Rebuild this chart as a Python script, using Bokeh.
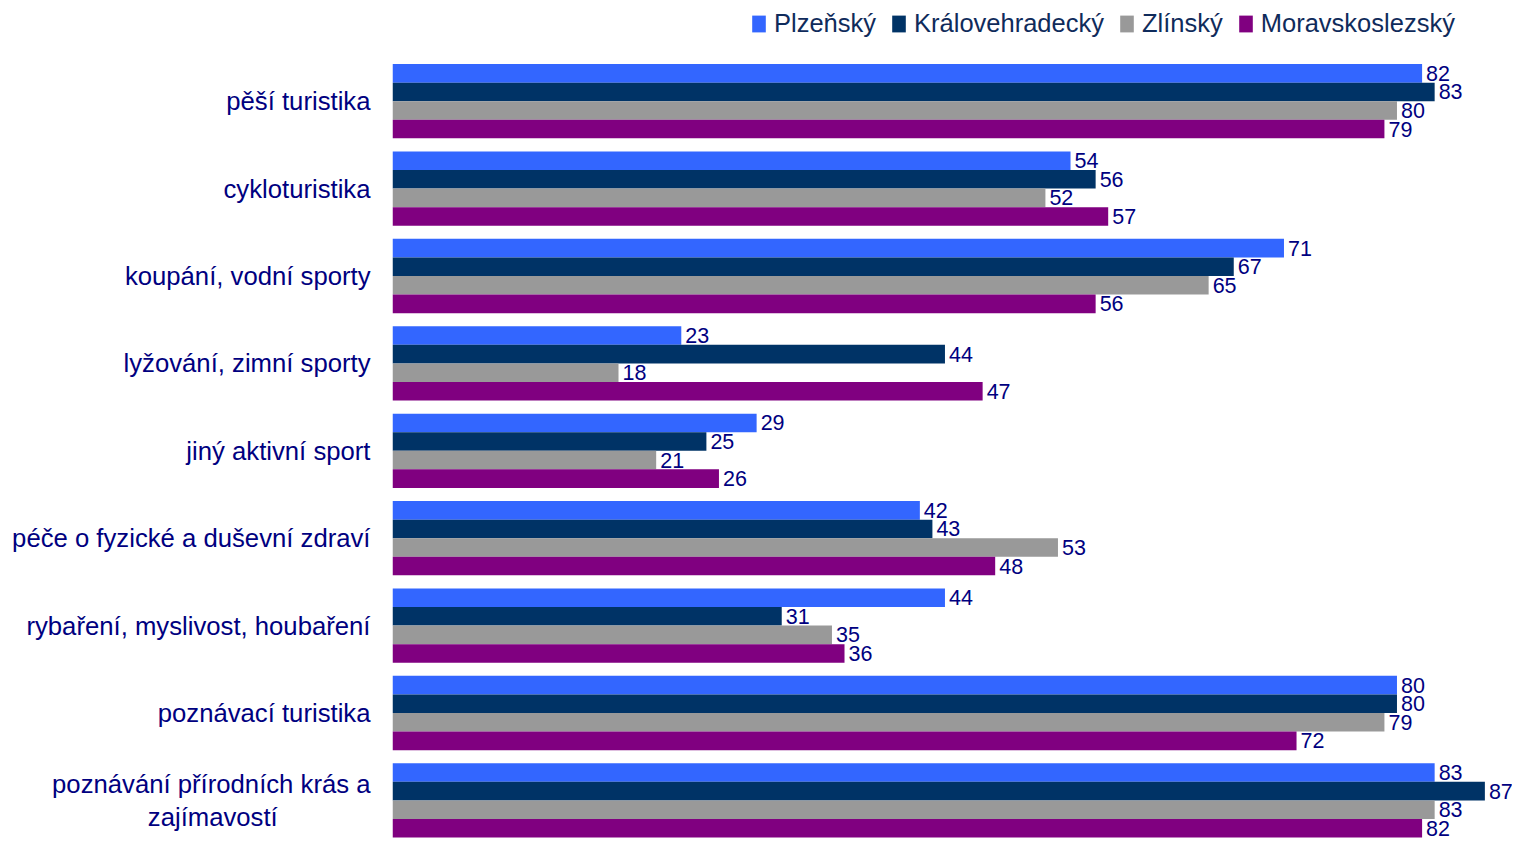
from bokeh.plotting import figure
from bokeh.models import ColumnDataSource, LabelSet, Legend, LegendItem, Range1d, FixedTicker
from bokeh.core.properties import value
from bokeh.embed import file_html
from bokeh.resources import INLINE

NB = "\u00a0"
categories = [
    "pěší turistika",
    "cykloturistika",
    "koupání, vodní sporty",
    "lyžování, zimní sporty",
    "jiný aktivní sport",
    "péče o fyzické a duševní zdraví",
    "rybaření, myslivost, houbaření",
    "poznávací turistika",
    "poznávání přírodních krás a\nzajímavostí" + NB * 13,
]
series_names = ["Plzeňský", "Královehradecký", "Zlínský", "Moravskoslezský"]
plzensky = [82, 54, 71, 23, 29, 42, 44, 80, 83]
kralovehradecky = [83, 56, 67, 44, 25, 43, 31, 80, 87]
zlinsky = [80, 52, 65, 18, 21, 53, 35, 79, 83]
moravskoslezsky = [79, 57, 56, 47, 26, 48, 36, 72, 82]
series_values = [plzensky, kralovehradecky, zlinsky, moravskoslezsky]
colors = ["#3366FF", "#003366", "#999999", "#800080"]

n = len(categories)
group_frac = 0.85
bar_h = group_frac / len(series_names)

FONT = "Liberation Sans"
W, H = 1512, 842
top_space = 57.0        # px above the first category band (legend area)
band_px = 87.4          # px per category band
y_end = n - 0.5 + top_space / band_px
y_start = y_end - H / band_px

p = figure(
    width=W, height=H,
    output_backend="svg", toolbar_location=None,
    x_range=Range1d(0, 89.2),
    y_range=Range1d(y_start, y_end),
    min_border_left=392, min_border_right=0,
    min_border_top=0, min_border_bottom=0,
    background_fill_color="white", border_fill_color="white",
    outline_line_color=None,
)
p.xaxis.visible = False
p.xgrid.visible = False
p.ygrid.visible = False

centers = [n - 1 - i for i in range(n)]
p.yaxis.ticker = FixedTicker(ticks=centers)
p.yaxis.major_label_overrides = {c: categories[i] for i, c in enumerate(centers)}
p.yaxis.axis_line_color = None
p.yaxis.major_tick_line_color = None
p.yaxis.minor_tick_line_color = None
p.yaxis.major_tick_out = 0
p.yaxis.major_tick_in = 0
p.yaxis.major_label_text_font = FONT
p.yaxis.major_label_text_font_size = "25.7px"
p.yaxis.major_label_text_color = "#000080"
p.yaxis.major_label_standoff = 22

items = []
for j, (name, vals, col) in enumerate(zip(series_names, series_values, colors)):
    ys = [c + (1.5 - j) * bar_h for c in centers]
    src = ColumnDataSource(dict(y=ys, v=vals, lab=[str(v) for v in vals]))
    r = p.hbar(y="y", right="v", left=0, height=bar_h, source=src,
               fill_color=col, line_color=None)
    items.append(LegendItem(label=name, renderers=[r]))
    labels = LabelSet(x="v", y="y", text="lab", source=src, x_offset=4,
                      text_baseline="middle", text_font=value(FONT),
                      text_font_size=value("21.5px"), text_color="#000080",
                      background_fill_color="white")
    p.add_layout(labels)

legend = Legend(items=items, orientation="horizontal", location=(358, 804),
                label_text_font=FONT, label_text_font_size="25.5px",
                label_text_color="#0F2B5B", glyph_width=17, glyph_height=21,
                spacing=14, padding=0, margin=0, label_standoff=7,
                background_fill_alpha=0, border_line_color=None)
p.add_layout(legend, "center")

open("out.html", "w").write(file_html(p, INLINE))
